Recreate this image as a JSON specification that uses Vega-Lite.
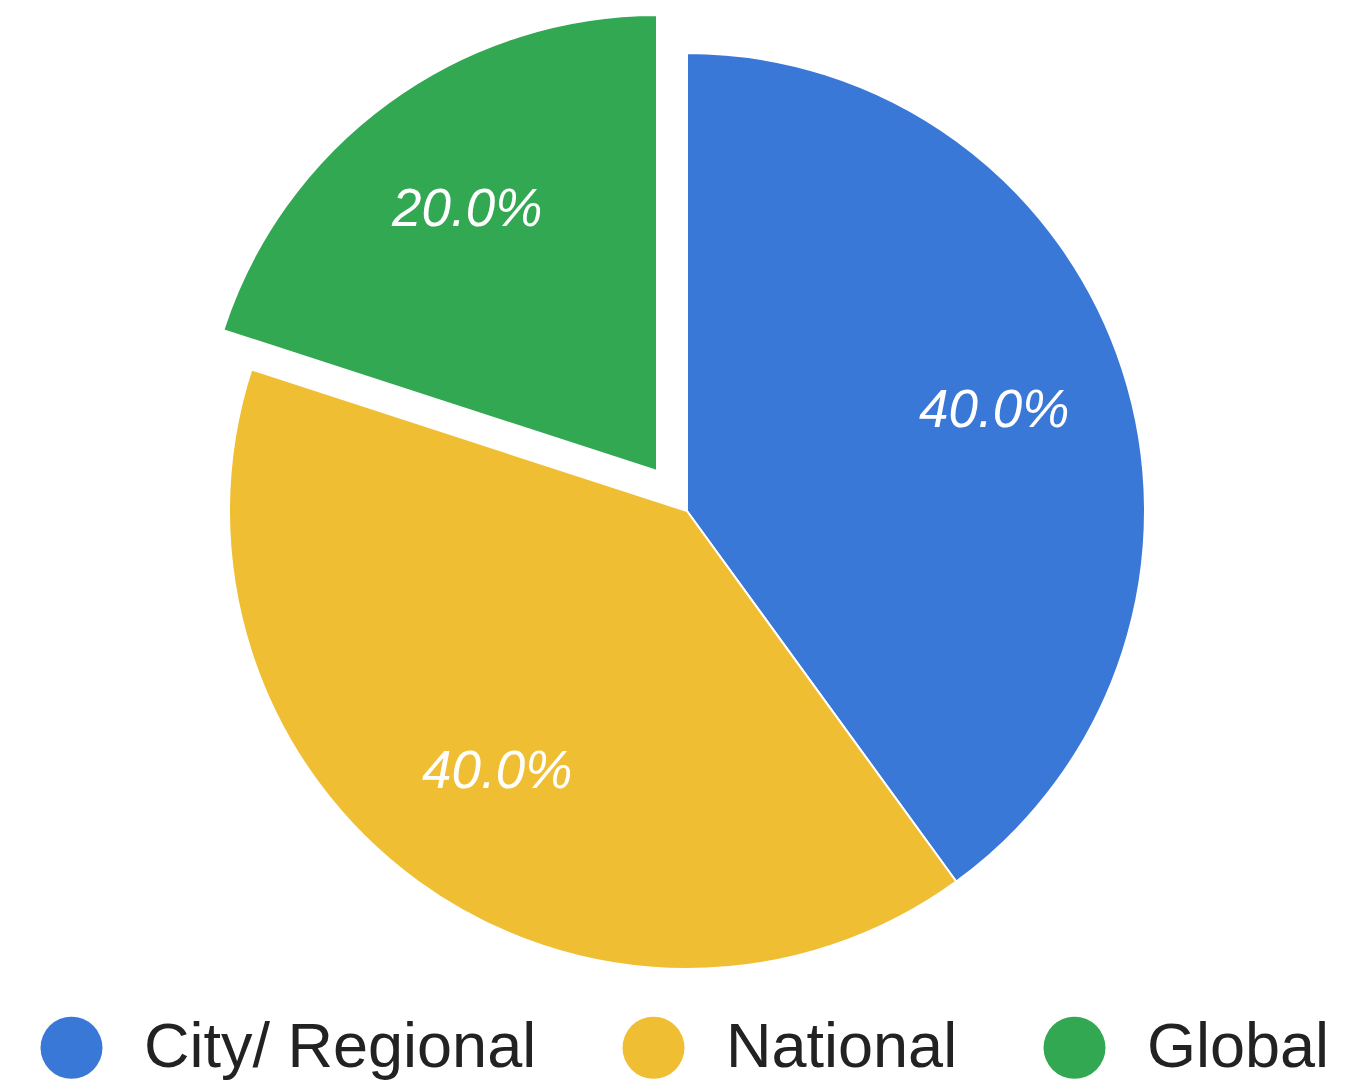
{
  "$schema": "https://vega.github.io/schema/vega-lite/v6.json",
  "width": 1348,
  "height": 1083,
  "autosize": "none",
  "padding": 0,
  "background": "white",
  "data": {
    "values": [
      {"category": "City/ Regional", "share": 0.4},
      {"category": "National", "share": 0.4},
      {"category": "Global", "share": 0.2}
    ]
  },
  "transform": [
    {"window": [{"op": "row_number", "as": "rank"}]}
  ],
  "encoding": {
    "theta": {"field": "share", "type": "quantitative", "stack": true, "scale": {"domain": [0, 1]}},
    "order": {"field": "rank", "type": "quantitative"},
    "color": {
      "field": "category",
      "type": "nominal",
      "scale": {
        "domain": ["City/ Regional", "National", "Global"],
        "range": ["#3a78d8", "#f0be32", "#33a853"]
      },
      "legend": {
        "title": null,
        "orient": "none",
        "direction": "horizontal",
        "legendX": 40,
        "legendY": 1016,
        "padding": 0,
        "symbolType": "circle",
        "symbolSize": 3844,
        "symbolStrokeWidth": 0,
        "symbolOpacity": 1,
        "labelFont": "Liberation Sans",
        "labelFontSize": 63,
        "labelColor": "#222222",
        "labelOffset": 41,
        "columnPadding": 85,
        "labelLimit": 0
      }
    }
  },
  "layer": [
    {
      "mark": {"type": "arc", "outerRadius": 458, "stroke": "white", "strokeWidth": 2},
      "encoding": {
        "x": {"value": 687},
        "y": {"value": 511},
        "opacity": {"condition": {"test": "datum.category === 'Global'", "value": 0}, "value": 1}
      }
    },
    {
      "mark": {"type": "arc", "outerRadius": 456, "stroke": "white", "strokeWidth": 2},
      "encoding": {
        "x": {"value": 657},
        "y": {"value": 471},
        "opacity": {"condition": {"test": "datum.category === 'Global'", "value": 1}, "value": 0}
      }
    },
    {
      "mark": {"type": "text", "radius": 323, "font": "Liberation Sans", "fontSize": 53, "fontStyle": "italic", "fill": "white", "baseline": "middle", "align": "center"},
      "encoding": {
        "x": {"value": 687},
        "y": {"value": 511},
        "text": {"field": "share", "type": "quantitative", "format": ".1%"},
        "color": {"value": "white"},
        "opacity": {"condition": {"test": "datum.category === 'Global'", "value": 0}, "value": 1}
      }
    },
    {
      "mark": {"type": "text", "radius": 323, "font": "Liberation Sans", "fontSize": 53, "fontStyle": "italic", "fill": "white", "baseline": "middle", "align": "center"},
      "encoding": {
        "x": {"value": 657},
        "y": {"value": 471},
        "text": {"field": "share", "type": "quantitative", "format": ".1%"},
        "color": {"value": "white"},
        "opacity": {"condition": {"test": "datum.category === 'Global'", "value": 1}, "value": 0}
      }
    }
  ],
  "config": {"view": {"stroke": null}}
}
